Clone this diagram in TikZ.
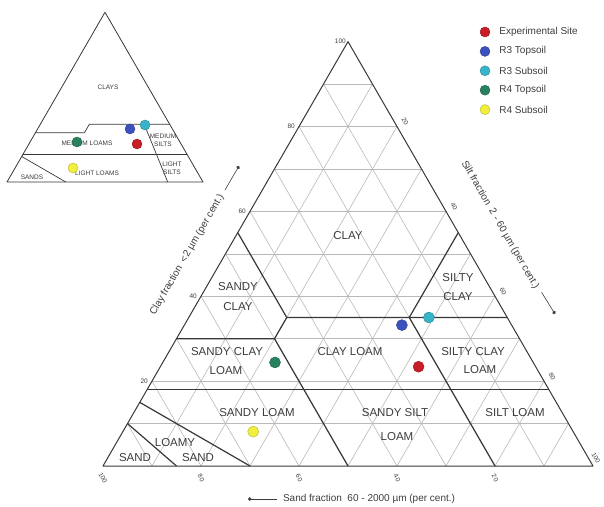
\documentclass[tikz,border=0pt]{standalone}
\usepackage{fontspec}
\setmainfont{Liberation Sans}
\usetikzlibrary{arrows.meta, positioning, calc}
\definecolor{cGrid}{RGB}{185, 185, 185}
\definecolor{cClass}{RGB}{55, 55, 55}
\definecolor{cText}{RGB}{60, 60, 60}
\definecolor{cExp}{RGB}{200, 30, 40}
\definecolor{cR3Top}{RGB}{60, 80, 190}
\definecolor{cR3Sub}{RGB}{55, 180, 200}
\definecolor{cR4Top}{RGB}{40, 130, 95}
\definecolor{cR4Sub}{RGB}{240, 240, 60}
\tikzset{
    x=1pt, y=1pt,
    % --- 三元坐标 (silt, clay) ---
    mainAxes/.style={x={(4.9pt,0pt)}, y={(2.45pt,4.2435pt)}},
    insetAxes/.style={x={(1.96pt,0pt)}, y={(0.98pt,1.6974pt)}},
    % --- 线条 ---
    gridLine/.style={draw=cGrid, line width=0.6pt},
    classLine/.style={draw=cClass, line width=1.2pt},
    frameLine/.style={draw=cClass, line width=1pt, line join=round},
    insetLine/.style={draw=cClass, line width=0.7pt},
    % --- 文字 ---
    classLabel/.style={font=\fontsize{11.5}{13}\selectfont, text=cText, inner sep=1pt},
    insetLabel/.style={font=\fontsize{6.5}{8.3}\selectfont, text=cText, inner sep=0.5pt, align=center},
    tickLabel/.style={font=\fontsize{6.5}{7}\selectfont, text=cText, inner sep=1pt},
    axisLabel/.style={font=\fontsize{10}{12}\selectfont, text=cText, inner sep=1pt},
    legendText/.style={font=\fontsize{10}{12}\selectfont, text=cText, anchor=west, inner sep=1pt},
    axisArrow/.style={draw=cText, line width=0.6pt, -{Circle[length=3.5pt]}},
    % --- 样品点 ---
    sample/.style={
        circle, fill=#1, draw=#1!75!black, line width=0.4pt,
        minimum size=10pt, inner sep=0pt
    }
}

\begin{document}
\begin{tikzpicture}
    \useasboundingbox (0,0) rectangle (604,506);

	% =========================================
	% 1. 主三角形
	% =========================================
	\begin{scope}[shift={(103,40)}, mainAxes]
		\coordinate (sandCorner) at (0,0);
		\coordinate (siltCorner) at (100,0);
		\coordinate (clayCorner) at (0,100);

		% 10% 网格
		\foreach \i in {10,20,...,90} {
			\draw[gridLine] (0,\i) -- ({100-\i},\i);
			\draw[gridLine] (\i,0) -- (\i,{100-\i});
			\draw[gridLine] ({100-\i},0) -- (0,{100-\i});
		}

		% 分类边界
		\coordinate (clayLeft) at (0,55);
		\coordinate (sandyClayKnee) at (20,35);
		\coordinate (sandyClayFoot) at (20,30);
		\coordinate (sandyClayEdge) at (0,30);
		\coordinate (siltyClayKnee) at (45,35);
		\coordinate (siltyClayTop) at (45,55);
		\coordinate (line35Right) at (65,35);
		\coordinate (sand50Foot) at (50,0);
		\coordinate (sand20Foot) at (80,0);
		\coordinate (line18Left) at (0,18);
		\coordinate (line18Right) at (82,18);
		\coordinate (loamySandTop) at (0,15);
		\coordinate (loamySandFoot) at (30,0);
		\coordinate (sandTop) at (0,10);
		\coordinate (sandFoot) at (15,0);

		\draw[classLine] (sandyClayEdge) -- (sandyClayFoot) -- (sandyClayKnee) -- (siltyClayKnee) -- (line35Right);
		\draw[classLine] (clayLeft) -- (sandyClayKnee);
		\draw[classLine] (siltyClayTop) -- (siltyClayKnee) -- (sand20Foot);
		\draw[classLine] (sandyClayFoot) -- (sand50Foot);
		\draw[classLine] (line18Left) -- (line18Right);
		\draw[classLine] (loamySandTop) -- (loamySandFoot);
		\draw[classLine] (sandTop) -- (sandFoot);

		\draw[frameLine] (sandCorner) -- (siltCorner) -- (clayCorner) -- cycle;

		% 刻度
		\node[tickLabel, anchor=east, xshift=-1pt] (clay100) at (clayCorner) {100};
		\foreach \v in {20,40,60,80} {
			\node[tickLabel, anchor=east, xshift=-3pt] (clay\v) at (0,\v) {\v};
			\node[tickLabel, xshift=8pt, yshift=5pt, rotate=-60] (silt\v) at (\v,{100-\v}) {\v};
		}
		\node[tickLabel, xshift=3pt, yshift=8pt, rotate=-60] (silt100) at (siltCorner) {100};
		\foreach \v in {20,40,60,80,100} {
			\node[tickLabel, yshift=-12pt, rotate=-60] (sand\v) at ({100-\v},0) {\v};
		}

		% 样品点
		\node[sample=cR3Top, minimum size=11pt] (ptR3Top) at (44.4,33.2) {};
		\node[sample=cR3Sub, minimum size=11pt] (ptR3Sub) at (49,35) {};
		\node[sample=cExp, minimum size=11pt] (ptExp) at (52.7,23.4) {};
		\node[sample=cR4Top, minimum size=11pt] (ptR4Top) at (22.9,24.4) {};
		\node[sample=cR4Sub, minimum size=11pt] (ptR4Sub) at (26.6,8.1) {};
	\end{scope}

	% =========================================
	% 2. 分类标签
	% =========================================
	\node[classLabel] (lbClay) at (348,270) {CLAY};
	\node[classLabel] (lbSandyClayA) at (238,219) {SANDY};
	\node[classLabel] (lbSandyClayB) at (238,199) {CLAY};
	\node[classLabel] (lbSclA) at (227,154) {SANDY CLAY};
	\node[classLabel] (lbSclB) at (226,135) {LOAM};
	\node[classLabel] (lbClayLoam) at (350,154) {CLAY LOAM};
	\node[classLabel] (lbSiltyClayA) at (458,228) {SILTY};
	\node[classLabel] (lbSiltyClayB) at (458,209) {CLAY};
	\node[classLabel] (lbSiclA) at (473,154) {SILTY CLAY};
	\node[classLabel] (lbSiclB) at (480,136) {LOAM};
	\node[classLabel] (lbSandyLoam) at (257,93) {SANDY LOAM};
	\node[classLabel] (lbSsilA) at (395,93) {SANDY SILT};
	\node[classLabel] (lbSsilB) at (397,69) {LOAM};
	\node[classLabel] (lbSiltLoam) at (515,93) {SILT LOAM};
	\node[classLabel] (lbLoamySandA) at (175,63) {LOAMY};
	\node[classLabel] (lbLoamySandB) at (198,48) {SAND};
	\node[classLabel] (lbSand) at (135,48) {SAND};

	% 坐标轴说明
	\node[axisLabel, rotate=60] (clayAxis) at (187,251) {Clay fraction\ \ <2 µm (per cent.)};
	\coordinate (clayTip) at (239,340);
	\draw[axisArrow, shorten <=5pt] (clayAxis) -- (clayTip);

	\node[axisLabel, rotate=-60] (siltAxis) at (500,281) {Silt fraction\ \ 2 - 60 µm (per cent.)};
	\coordinate (siltTip) at (555,192);
	\draw[axisArrow, shorten <=5pt] (siltAxis) -- (siltTip);

	\node[axisLabel] (sandAxis) at (369,7) {Sand fraction\ \ 60 - 2000 µm (per cent.)};
	\coordinate (sandTip) at (248,7);
	\draw[axisArrow, shorten <=5pt] (sandAxis) -- (sandTip);

	% =========================================
	% 3. 左上小三角形
	% =========================================
	\begin{scope}[shift={(7,324)}, insetAxes]
		\coordinate (insetSand) at (0,0);
		\coordinate (insetSilt) at (100,0);
		\coordinate (insetClay) at (0,100);
		\draw[insetLine] (0,29) -- (25,29) -- (25,34) -- (66,34);
		\draw[insetLine] (53,34) -- (82,0);
		\draw[insetLine] (0,16.5) -- (83.5,16.5);
		\draw[insetLine] (0,15) -- (30,0);
		\draw[frameLine, line width=0.8pt] (insetSand) -- (insetSilt) -- (insetClay) -- cycle;
	\end{scope}

	\node[insetLabel] (inClays) at (108,419) {CLAYS};
	\node[insetLabel] (inMedLoams) at (87,363) {MEDIUM LOAMS};
	\node[insetLabel] (inMedSilts) at (163,366) {MEDIUM\\SILTS};
	\node[insetLabel] (inLightLoams) at (97,333) {LIGHT LOAMS};
	\node[insetLabel] (inLightSilts) at (172,337.5) {LIGHT\\SILTS};
	\node[insetLabel] (inSands) at (32,329) {SANDS};

	\node[sample=cR4Top] (inR4Top) at (77,364) {};
	\node[sample=cR3Top] (inR3Top) at (130,377) {};
	\node[sample=cR3Sub] (inR3Sub) at (145,381) {};
	\node[sample=cExp] (inExp) at (137,362) {};
	\node[sample=cR4Sub] (inR4Sub) at (73,338) {};

	% =========================================
	% 4. 图例
	% =========================================
	\node[sample=cExp] (legExp) at (485,474) {};
	\node[legendText, right=8pt of legExp] (legExpText) {Experimental Site};
	\node[sample=cR3Top, below=9pt of legExp] (legR3Top) {};
	\node[legendText, right=8pt of legR3Top] (legR3TopText) {R3 Topsoil};
	\node[sample=cR3Sub, below=9pt of legR3Top] (legR3Sub) {};
	\node[legendText, right=8pt of legR3Sub] (legR3SubText) {R3 Subsoil};
	\node[sample=cR4Top, below=9pt of legR3Sub] (legR4Top) {};
	\node[legendText, right=8pt of legR4Top] (legR4TopText) {R4 Topsoil};
	\node[sample=cR4Sub, below=9pt of legR4Top] (legR4Sub) {};
	\node[legendText, right=8pt of legR4Sub] (legR4SubText) {R4 Subsoil};

\end{tikzpicture}
\end{document}
